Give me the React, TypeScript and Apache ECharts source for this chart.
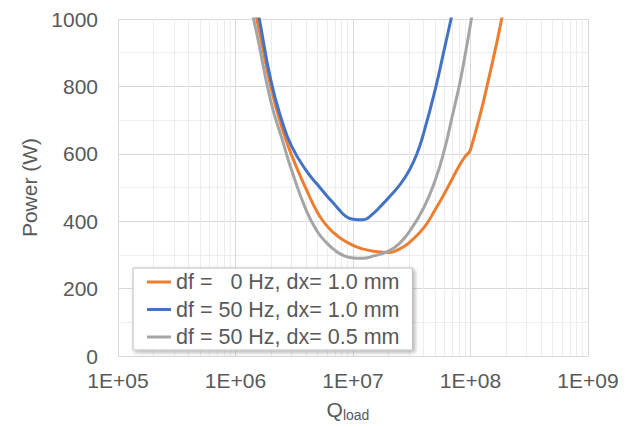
import React, { useEffect, useRef } from 'react';
import * as echarts from 'echarts';

const seriesNames = ['df =   0 Hz, dx= 1.0 mm', 'df = 50 Hz, dx= 1.0 mm', 'df = 50 Hz, dx= 0.5 mm'];
const seriesColors = ['#ED7D31', '#4472C4', '#A5A5A5'];

const orangeQ = [1.3e6, 1.5e6, 2e6, 2.5e6, 3e6, 4e6, 5e6, 6e6, 7e6, 8e6, 1e7, 1.2e7, 1.5e7, 2e7, 2.5e7, 3e7, 4e7, 5e7, 6e7, 7e7, 8e7, 9e7, 1e8, 1.5e8, 2e8];
const orangeP = [1090, 1008, 798, 675, 596, 495, 425, 386, 363, 347, 328, 318, 311, 307, 318, 336, 380, 434, 482, 526, 564, 592, 612, 855, 1065];

const blueQ = [1.3e6, 1.5e6, 2e6, 2.5e6, 3e6, 4e6, 5e6, 6e6, 7e6, 8e6, 9e6, 1e7, 1.2e7, 1.5e7, 1.7e7, 2e7, 2.5e7, 3e7, 3.5e7, 4e7, 5e7, 6e7, 7e7, 8e7];
const blueP = [1120, 1045, 818, 695, 623, 550, 508, 475, 449, 426, 411, 406, 404, 424, 443, 469, 508, 550, 600, 662, 790, 912, 1017, 1110];

const grayQ = [1.2e6, 1.5e6, 2e6, 2.5e6, 3e6, 4e6, 5e6, 6e6, 7e6, 8e6, 1e7, 1.2e7, 1.5e7, 2e7, 2.5e7, 3e7, 4e7, 5e7, 6e7, 7e7, 8e7, 9e7, 1e8, 1.2e8];
const grayP = [1110, 965, 755, 642, 552, 432, 368, 335, 314, 301, 291, 290, 297, 311, 335, 368, 440, 521, 612, 712, 800, 893, 985, 1150];

const xMin = 1e5;
const xMax = 1e9;
const yMin = 0;
const yMax = 1000;
const yInterval = 200;
const minorDecadeExponents = [5, 6, 7, 8];
const minorMultipliers = [2, 3, 4, 5, 6, 7, 8, 9];

const textColor = '#595959';
const fontFamily = '"Liberation Sans", Arial, sans-serif';

export default function App() {
  const ref = useRef<HTMLDivElement>(null);

  useEffect(() => {
    if (!ref.current) return;
    const chart = echarts.init(ref.current, null, { renderer: 'svg' });
    const zip = (q: number[], p: number[]) => q.map((x, i) => [x, p[i]]);
    const minorLines = minorDecadeExponents.flatMap((e) =>
      minorMultipliers.map((m) => ({ xAxis: m * Math.pow(10, e) }))
    );
    const lineSeries = [
      [orangeQ, orangeP],
      [blueQ, blueP],
      [grayQ, grayP],
    ].map(([q, p], i) => ({
      type: 'line',
      name: seriesNames[i],
      data: zip(q, p),
      symbol: 'none',
      smooth: 0.5,
      z: 3,
      lineStyle: { color: seriesColors[i], width: 3 },
      itemStyle: { color: seriesColors[i] },
    }));

    chart.setOption({
      animation: false,
      textStyle: { fontFamily },
      grid: { left: 118, right: 47, top: 19, bottom: 71 },
      xAxis: {
        type: 'log',
        logBase: 10,
        min: xMin,
        max: xMax,
        splitNumber: 4,
        axisLine: { show: true, lineStyle: { color: '#d9d9d9', width: 1 } },
        axisTick: { show: false },
        axisLabel: {
          color: textColor,
          fontSize: 21,
          margin: 14,
          formatter: (v: number) => '1E+' + String(Math.round(Math.log10(v))).padStart(2, '0'),
        },
        splitLine: { show: true, lineStyle: { color: '#d9d9d9', width: 1 } },
        name: '{q|Q}{s|load}',
        nameLocation: 'middle',
        nameGap: 40,
        nameTextStyle: {
          rich: {
            q: { fontSize: 21, color: textColor, lineHeight: 26, fontFamily },
            s: { fontSize: 14, color: textColor, lineHeight: 14, verticalAlign: 'bottom', fontFamily, padding: [0, 10, 0, 0] },
          },
        },
      },
      yAxis: {
        type: 'value',
        min: yMin,
        max: yMax,
        interval: yInterval,
        axisLine: { show: true, lineStyle: { color: '#d9d9d9', width: 1 } },
        axisTick: { show: false },
        axisLabel: { color: textColor, fontSize: 21, margin: 20, formatter: (v: number) => String(v) },
        splitLine: { show: true, lineStyle: { color: '#d9d9d9', width: 1 } },
        minorTick: { show: false, splitNumber: 2 },
        minorSplitLine: { show: true, lineStyle: { color: '#eeeeee', width: 1 } },
        name: 'Power (W)',
        nameLocation: 'middle',
        nameGap: 68,
        nameTextStyle: { color: textColor, fontSize: 21 },
      },
      legend: {
        data: seriesNames,
        orient: 'vertical',
        left: 133,
        top: 268,
        z: 10,
        icon: 'rect',
        itemWidth: 24,
        itemHeight: 3,
        itemGap: 5.5,
        padding: [3, 13, 2, 14],
        backgroundColor: '#ffffff',
        borderColor: '#bfbfbf',
        borderWidth: 1,
        shadowColor: 'rgba(0,0,0,0.3)',
        shadowBlur: 4,
        shadowOffsetX: 2,
        shadowOffsetY: 2,
        selectedMode: false,
        textStyle: { color: textColor, fontSize: 21.5, lineHeight: 21, fontFamily },
      },
      series: [
        {
          type: 'line',
          name: 'minor-grid',
          data: [],
          silent: true,
          z: 1,
          markLine: {
            z: 1,
            silent: true,
            symbol: ['none', 'none'],
            label: { show: false },
            lineStyle: { color: '#ececec', width: 1, type: 'solid' },
            emphasis: { disabled: true },
            data: minorLines,
          },
        },
        ...lineSeries,
      ],
    });
    return () => chart.dispose();
  }, []);

  return (
    <div
      ref={ref}
      style={{ position: 'fixed', left: 0, top: 0, width: 635, height: 427, background: '#ffffff' }}
    />
  );
}
